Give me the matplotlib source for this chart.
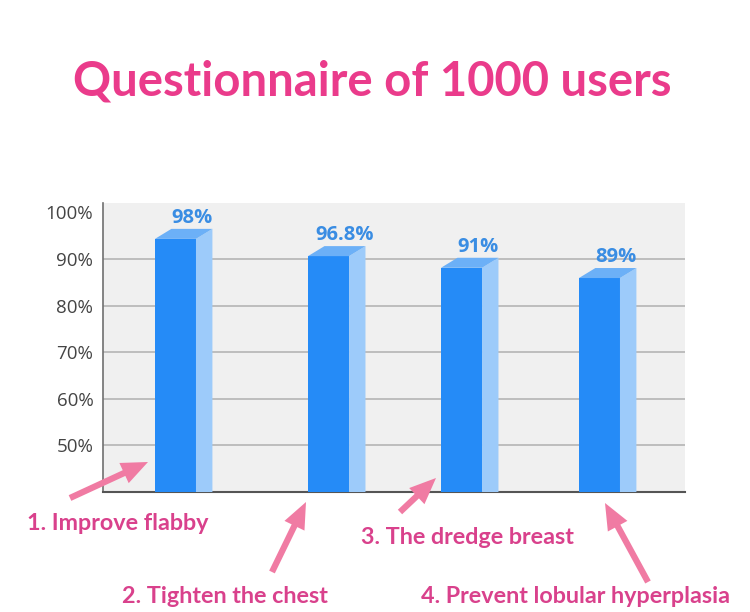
import matplotlib.pyplot as plt
from matplotlib.patches import Polygon, FancyArrowPatch

# data
categories = ['1. Improve flabby', '2. Tighten the chest',
              '3. The dredge breast', '4. Prevent lobular hyperplasia']
heights = [94.3, 90.6, 88.1, 85.9]          # drawn bar heights (%)
value_labels = ['98%', '96.8%', '91%', '89%']
ytick_vals = [50, 60, 70, 80, 90, 100]
ytick_labels = ['50%', '60%', '70%', '80%', '90%', '100%']

# layout
W, H = 750, 612
bar_pos = [0.498, 1.55, 2.464, 3.412]
bar_w = 0.282
dx, dy = 0.113, 2.15        # fake 3d depth in data units

front_c = '#258bf7'
side_c = '#9dcbfa'
top_c = '#6cb0f7'
pink_txt = '#d9418c'
pink_arrow = '#f07ba3'


def fx(px):
    return px / W


def fy(py):
    return 1 - py / H


fig = plt.figure(figsize=(7.5, 6.12), dpi=100)
ax = fig.add_axes([fx(103), fy(492), fx(685) - fx(103), (492 - 203) / H])
ax.set_facecolor('#f0f0f0')
ax.set_xlim(0, 4)
ax.set_ylim(40, 102)

for g in ytick_vals[:-1]:
    ax.axhline(g, color='#b9b9b9', lw=1.3, zorder=1)

ax.bar(bar_pos, heights, width=bar_w, color=front_c, zorder=3)
for x, h, lab in zip(bar_pos, heights, value_labels):
    x1 = x + bar_w / 2
    x0 = x - bar_w / 2
    side = Polygon([(x1, 40), (x1, h), (x1 + dx, h + dy), (x1 + dx, 40)],
                   closed=True, color=side_c, lw=0, zorder=3)
    top = Polygon([(x0, h), (x1, h), (x1 + dx, h + dy), (x0 + dx, h + dy)],
                  closed=True, color=top_c, lw=0, zorder=3)
    ax.add_patch(side)
    ax.add_patch(top)
    ax.annotate(lab, (x + dx, h + dy), xytext=(0, 8), textcoords='offset points',
                ha='center', va='center', fontsize=14.5, fontweight='bold',
                family='Open Sans', color='#3a8de3')

ax.set_xticks([])
ax.set_yticks(ytick_vals)
ax.set_yticklabels(ytick_labels, family='Open Sans', fontsize=13.5, color='#444444')
ax.tick_params(axis='y', length=0, pad=7)
for s in ['top', 'right']:
    ax.spines[s].set_visible(False)
ax.spines['left'].set_color('#707070')
ax.spines['bottom'].set_color('#555555')
ax.spines['left'].set_linewidth(1.2)
ax.spines['bottom'].set_linewidth(1.5)

# title
fig.text(fx(372), fy(95), 'Questionnaire of 1000 users', ha='center', va='baseline',
         fontsize=34, color='#ea3b8b', family='Lato', fontweight='bold')

# category notes with arrows
label_xy = [(27, 530), (122, 603), (361, 544), (421, 603)]
arrows = [((70, 498), (148, 462)), ((272, 572), (306, 502)),
          ((400, 512), (436, 478)), ((648, 582), (605, 503))]
for name, (lx, ly) in zip(categories, label_xy):
    fig.text(fx(lx), fy(ly), name, ha='left', va='baseline', fontsize=16.8,
             color=pink_txt, family='Lato', fontweight='bold')
for (t, hd) in arrows:
    arr = FancyArrowPatch((fx(t[0]), fy(t[1])), (fx(hd[0]), fy(hd[1])),
                          transform=fig.transFigure,
                          arrowstyle='simple,head_length=1.9,head_width=1.6,tail_width=0.45',
                          mutation_scale=10, color=pink_arrow, lw=0,
                          shrinkA=0, shrinkB=0)
    fig.add_artist(arr)

fig.savefig('out.png', dpi=100)
